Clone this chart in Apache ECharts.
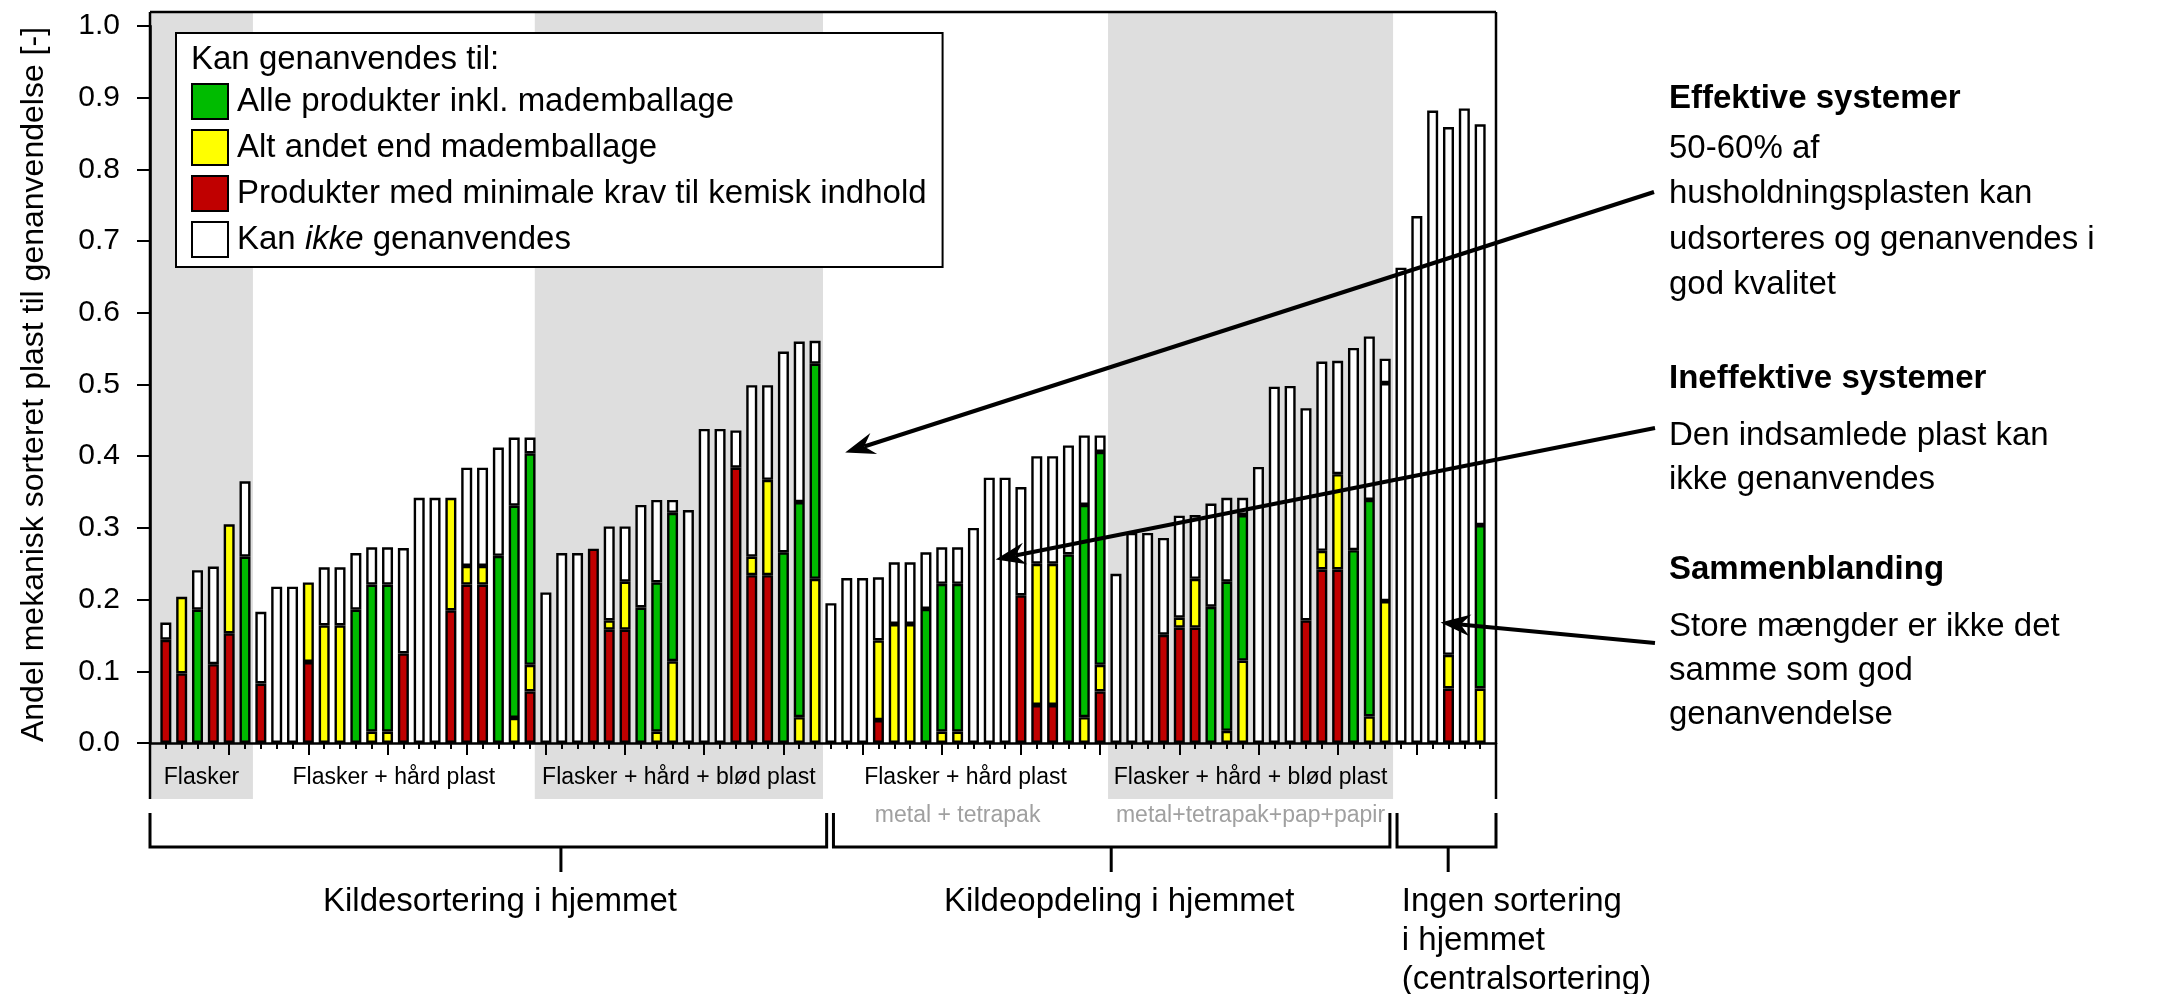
<!DOCTYPE html>
<html><head><meta charset="utf-8">
<script src="https://cdn.jsdelivr.net/npm/echarts@6/dist/echarts.min.js"></script>
<style>html,body{margin:0;padding:0;background:#fff}#c{width:2174px;height:994px}</style>
</head><body><div id="c"></div>
<script>
// ---------- DATA (bars 1..84, cumulative tops of each coloured part; null = part absent) ----------
const redTop = [0.144,0.097,null,0.110,0.153,null, 0.083,null,null,0.113,null,null,null,null,null,0.125,null,null,0.185,0.221,0.221,null,null,0.072,
  null,null,null,0.271,0.158,0.158,null,null,null,null,null,null,0.384,0.234,0.234,null,null,null,
  null,null,null,0.032,null,null,null,null,null,null,null,null,0.206,0.053,0.053,null,null,0.072,
  null,null,null,0.151,0.161,0.161,null,null,null,null,null,null,0.171,0.242,0.242,null,null,null,
  null,null,null,0.076,null,null];
const yellowTop = [null,0.204,null,null,0.305,null, null,null,null,0.224,0.164,0.164,null,0.016,0.016,null,null,null,0.342,0.247,0.247,null,0.035,0.109,
  null,null,null,null,0.171,0.225,null,0.016,0.114,null,null,null,null,0.260,0.367,null,0.036,0.229,
  null,null,null,0.143,0.166,0.166,null,0.016,0.016,null,null,null,null,0.250,0.250,null,0.036,0.109,
  null,null,null,null,0.175,0.229,null,0.017,0.115,null,null,null,null,0.268,0.375,null,0.037,0.198,
  null,null,null,0.123,null,0.076];
const greenTop = [null,null,0.186,null,null,0.260, null,null,null,null,null,null,0.186,0.221,0.221,null,null,null,null,null,null,0.261,0.331,0.404,
  null,null,null,null,null,null,0.189,0.224,0.321,null,null,null,null,null,null,0.266,0.336,0.529,
  null,null,null,null,null,null,0.187,0.222,0.222,null,null,null,null,null,null,0.263,0.332,0.406,
  null,null,null,null,null,null,0.190,0.225,0.318,null,null,null,null,null,null,0.269,0.339,0.502,
  null,null,null,null,null,0.304];
const totalTop = [0.168,null,0.241,0.246,null,0.365, 0.183,0.218,0.218,null,0.245,0.245,0.265,0.273,0.273,0.272,0.342,0.342,null,0.384,0.384,0.412,0.426,0.426,
  0.210,0.265,0.265,null,0.302,0.302,0.332,0.339,0.339,0.325,0.438,0.438,0.436,0.499,0.499,0.546,0.560,0.561,
  0.195,0.230,0.230,0.231,0.252,0.252,0.266,0.273,0.273,0.300,0.370,0.370,0.357,0.400,0.400,0.415,0.429,0.429,
  0.236,0.293,0.293,0.286,0.317,0.318,0.334,0.342,0.342,0.385,0.497,0.498,0.467,0.532,0.533,0.551,0.567,0.536,
  0.663,0.735,0.882,0.859,0.885,0.863];
const whiteFilledGreen = [78];          // bar whose "green" part is drawn white in the original
const nPositions = 85;                   // x axis runs 0..85, bars at 1..84

const names = {
  green: 'Alle produkter inkl. mademballage',
  yellow: 'Alt andet end mademballage',
  red: 'Produkter med minimale krav til kemisk indhold',
  white: 'Kan ikke genanvendes'
};
const legendTitle = 'Kan genanvendes til:';
const yAxisName = 'Andel mekanisk sorteret plast til genanvendelse [-]';
const shadedBands = [[0, 6.5], [24.3, 42.5], [60.5, 78.5]];
const groupLabels = [
  { text: 'Flasker', x: 3.25 },
  { text: 'Flasker + hård plast', x: 15.4 },
  { text: 'Flasker + hård + blød plast', x: 33.4 },
  { text: 'Flasker + hård plast', x: 51.5 },
  { text: 'Flasker + hård + blød plast', x: 69.5 }
];
const subLabels = [
  { text: 'metal + tetrapak', x: 51.0, align: 'center' },
  { text: 'metal+tetrapak+pap+papir', x: 61.0, align: 'left' }
];
const brackets = [
  { from: 0, to: 42.73, tick: 25.95, label: ['Kildesortering i hjemmet'], lx: 22.1, align: 'center' },
  { from: 43.16, to: 78.3, tick: 60.7, label: ['Kildeopdeling i hjemmet'], lx: 61.2, align: 'center' },
  { from: 78.75, to: 85.0, tick: 81.98, label: ['Ingen sortering', 'i hjemmet', '(centralsortering)'], lx: 79.05, align: 'left' }
];
const notes = [
  { text: 'Effektive systemer', y: 99, bold: true },
  { text: '50-60% af', y: 149 },
  { text: 'husholdningsplasten kan', y: 194 },
  { text: 'udsorteres og genanvendes i', y: 240 },
  { text: 'god kvalitet', y: 285 },
  { text: 'Ineffektive systemer', y: 379, bold: true },
  { text: 'Den indsamlede plast kan', y: 436 },
  { text: 'ikke genanvendes', y: 480 },
  { text: 'Sammenblanding', y: 570, bold: true },
  { text: 'Store mængder er ikke det', y: 627 },
  { text: 'samme som god', y: 671 },
  { text: 'genanvendelse', y: 715 }
];
const arrows = [ // tip in data coordinates, start in page pixels (next to the notes)
  { tip: [43.9, 0.405], start: [1654, 192] },
  { tip: [53.4, 0.256], start: [1655, 428] },
  { tip: [81.5, 0.168], start: [1655, 643] }
];

// ---------- build ----------
const FONT = 'Liberation Sans, Arial, Helvetica, sans-serif';
const categories = [];
for (let i = 0; i <= nPositions; i++) categories.push(String(i));

const red = [null], yellow = [null], green = [null], white = [null];
for (let k = 0; k < totalTop.length; k++) {
  const r = redTop[k], y = yellowTop[k], g = greenTop[k], t = totalTop[k];
  const afterR = r == null ? 0 : r;
  const afterY = y == null ? afterR : y;
  const afterG = g == null ? afterY : g;
  red.push(r == null ? null : r);
  yellow.push(y == null ? null : +(y - afterR).toFixed(4));
  let gv = g == null ? null : +(g - afterY).toFixed(4);
  if (gv != null && whiteFilledGreen.indexOf(k + 1) >= 0) gv = { value: gv, itemStyle: { color: '#ffffff' } };
  green.push(gv);
  white.push(t == null ? null : +(t - afterG).toFixed(4));
}
red.push(null); yellow.push(null); green.push(null); white.push(null);

function barSeries(name, color, data) {
  return {
    name, type: 'bar', stack: 'all', xAxisIndex: 0, yAxisIndex: 0, barWidth: 11,
    data, itemStyle: { color, borderColor: '#000', borderWidth: 2.4 },
    emphasis: { disabled: true }, silent: true, animation: false, z: 3
  };
}

const chart = echarts.init(document.getElementById('c'), null, { renderer: 'canvas' });
chart.setOption({
  animation: false,
  textStyle: { fontFamily: FONT, color: '#000' },
  grid: { left: 150, right: 678, top: 26, bottom: 251, containLabel: false },
  xAxis: [
    { type: 'category', data: categories, boundaryGap: false, position: 'bottom',
      axisLine: { show: true, lineStyle: { color: '#000', width: 2.5 } },
      axisTick: { show: false }, axisLabel: { show: false }, splitLine: { show: false } },
    { type: 'value', min: 0, max: nPositions, interval: 5, position: 'bottom',
      axisLine: { show: false },
      axisTick: { show: true, length: 12, lineStyle: { color: '#000', width: 2 } },
      minorTick: { show: true, splitNumber: 5, length: 6, lineStyle: { color: '#000', width: 2 } },
      axisLabel: { show: false }, splitLine: { show: false }, minorSplitLine: { show: false } }
  ],
  yAxis: {
    type: 'value', min: 0, max: 1, interval: 0.1,
    axisLine: { show: true, lineStyle: { color: '#000', width: 2.5 } },
    axisTick: { show: true, length: 13, lineStyle: { color: '#000', width: 2 } },
    axisLabel: { fontSize: 30, color: '#000', fontFamily: FONT, margin: 30, formatter: v => v.toFixed(1) },
    splitLine: { show: false },
    name: yAxisName, nameLocation: 'middle', nameGap: 100,
    nameTextStyle: { fontSize: 32, color: '#000', fontFamily: FONT }
  },
  legend: {
    left: 176, top: 33, orient: 'vertical', selectedMode: false,
    data: [names.green, names.yellow, names.red, names.white],
    icon: 'rect', itemWidth: 36, itemHeight: 35, itemGap: 9,
    padding: [50, 16, 9, 15],
    backgroundColor: '#fff', borderColor: '#000', borderWidth: 2, borderRadius: 0,
    formatter: n => n === names.white ? 'Kan {i|ikke} genanvendes' : n,
    textStyle: { fontSize: 33, color: '#000', fontFamily: FONT, padding: [0, 0, 0, 4],
      rich: { i: { fontStyle: 'italic', fontSize: 33, color: '#000', fontFamily: FONT } } },
    z: 10
  },
  series: [
    barSeries(names.red, '#c00000', red),
    barSeries(names.yellow, '#ffff00', yellow),
    barSeries(names.green, '#00bb00', green),
    barSeries(names.white, '#ffffff', white)
  ]
});

const X = v => chart.convertToPixel({ xAxisIndex: 1 }, v);
const Y = v => chart.convertToPixel({ yAxisIndex: 0 }, v);
const frameTop = 12, bandBottom = 799;
const g = [];
shadedBands.forEach(([a, b]) => g.push({ type: 'rect', silent: true, z: -10,
  shape: { x: X(a), y: frameTop, width: X(b) - X(a), height: bandBottom - frameTop }, style: { fill: '#dedede' } }));
const L = (x1, y1, x2, y2, w) => g.push({ type: 'line', silent: true, z: 60,
  shape: { x1, y1, x2, y2 }, style: { stroke: '#000', lineWidth: w || 2.5, lineCap: 'butt' } });
const T = (text, x, y, o) => g.push({ type: 'text', silent: true, z: 70, x, y,
  style: Object.assign({ text, fontSize: 33, fontFamily: FONT, fill: '#000', align: 'left', verticalAlign: 'middle' }, o || {}) });
// frame
L(X(0), frameTop, X(nPositions), frameTop);
L(X(0), frameTop, X(0), bandBottom);
L(X(nPositions), frameTop, X(nPositions), bandBottom);
// group labels under axis
groupLabels.forEach(l => T(l.text, X(l.x), 778, { fontSize: 23, align: 'center' }));
subLabels.forEach(l => T(l.text, X(l.x), 816, { fontSize: 23, align: l.align, fill: '#a0a0a0' }));
// brackets
brackets.forEach(b => {
  g.push({ type: 'polyline', silent: true, z: 60,
    shape: { points: [[X(b.from), 813], [X(b.from), 847], [X(b.to), 847], [X(b.to), 813]] },
    style: { stroke: '#000', lineWidth: 3, fill: null } });
  L(X(b.tick), 847, X(b.tick), 872, 3);
  b.label.forEach((t, i) => T(t, X(b.lx), 902 + i * 39, { align: b.align }));
});
// legend title
T(legendTitle, 191, 60, {});
// notes
notes.forEach(n => T(n.text, 1669, n.y, n.bold ? { fontWeight: 'bold' } : {}));
// arrows
arrows.forEach(a => {
  const tx = X(a.tip[0]), ty = Y(a.tip[1]);
  const sx = a.start[0], sy = a.start[1];
  const dx = tx - sx, dy = ty - sy, len = Math.hypot(dx, dy);
  const ux = dx / len, uy = dy / len, nx = -uy, ny = ux;
  const HL = 30, HW = 11, NOTCH = 20;
  L(sx, sy, tx - ux * NOTCH, ty - uy * NOTCH, 4);
  g.push({ type: 'polygon', silent: true, z: 61, shape: { points: [
    [tx, ty], [tx - ux * HL + nx * HW, ty - uy * HL + ny * HW],
    [tx - ux * NOTCH, ty - uy * NOTCH], [tx - ux * HL - nx * HW, ty - uy * HL - ny * HW]] },
    style: { fill: '#000' } });
});
chart.setOption({ graphic: { elements: g } });
</script></body></html>
